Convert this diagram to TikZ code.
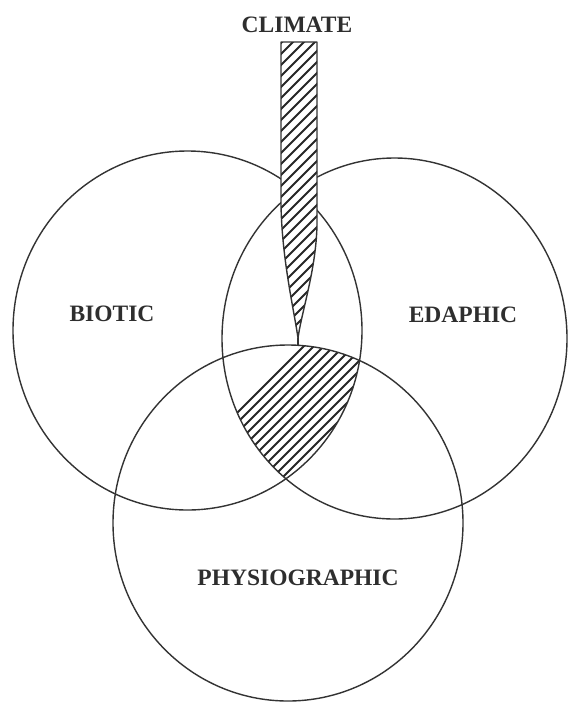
\documentclass[tikz,border=0pt]{standalone}
\usepackage{fontspec}
\setmainfont{Liberation Serif}
\begin{document}
\begin{tikzpicture}[x=1pt,y=-1pt,
  ring/.style={draw=black!80,line width=1.4pt},
  hatchline/.style={black!85,line width=1.8pt},
  lbl/.style={font=\bfseries\fontsize{23.5}{28}\selectfont,text=black!82,inner sep=0pt}]
\useasboundingbox (0,0) rectangle (568,702);
\fill[white] (0,0) rectangle (568,702);

% circles
\coordinate (bc) at (187.5,330.5);
\coordinate (ec) at (394.5,338.5);
\coordinate (pc) at (288,523);

% hatched common region
\begin{scope}
  \clip (bc) ellipse [x radius=174.5, y radius=179.5];
  \clip (ec) ellipse [x radius=172.5, y radius=180.5];
  \clip (pc) ellipse [x radius=175, y radius=178];
  \foreach \i in {0,...,40} {
    \draw[hatchline] (150+\i*10,500) -- ++(-200,200) (150+\i*10,500) -- ++(200,-200);
  }
\end{scope}

\draw[ring] (bc) ellipse [x radius=174.5, y radius=179.5];
\draw[ring] (ec) ellipse [x radius=172.5, y radius=180.5];
\draw[ring] (pc) ellipse [x radius=175, y radius=178];

% climate wedge
\coordinate (tip) at (298,345);
\path[fill=white] (281,42) -- (281,205) .. controls (282,260) and (294,310) .. (298,338)
   .. controls (302,310) and (316,270) .. (317,225) -- (317,42) -- cycle;
\begin{scope}
  \clip (281,42) -- (281,205) .. controls (282,260) and (294,310) .. (298,338)
   .. controls (302,310) and (316,270) .. (317,225) -- (317,42) -- cycle;
  \foreach \i in {0,...,35} {
    \draw[hatchline] (250,30+\i*11) -- ++(100,-100);
  }
\end{scope}
\draw[ring,line join=round] (281,42) -- (281,205) .. controls (282,260) and (294,310) .. (298,338)
   .. controls (302,310) and (316,270) .. (317,225) -- (317,42) -- cycle;
\coordinate (wtip) at (298,338);
\draw[ring] (wtip) -- (tip);

% labels
\node[lbl] (climate) at (297,25) {CLIMATE};
\node[lbl] (biotic) at (112,314) {BIOTIC};
\node[lbl] (edaphic) at (463,315) {EDAPHIC};
\node[lbl] (physio) at (298,578) {PHYSIOGRAPHIC};
\end{tikzpicture}
\end{document}
